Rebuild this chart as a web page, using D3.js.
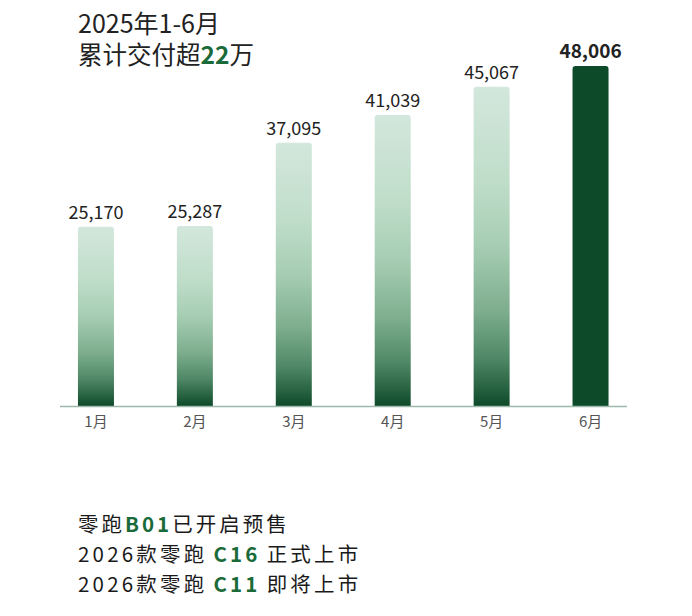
<!DOCTYPE html>
<html><head><meta charset="utf-8">
<script src="https://cdn.jsdelivr.net/npm/d3@7"></script>
<style>
html,body{margin:0;padding:0;background:#fff;}
svg{display:block;font-family:"Noto Sans CJK SC","Noto Sans",sans-serif;}
</style></head>
<body>
<svg id="c" width="692" height="616"></svg>
<script>
const months = ["1月","2月","3月","4月","5月","6月"];
const deliveries = [25170, 25287, 37095, 41039, 45067, 48006];
const titleLine1 = "2025年1-6月";
const titleLine2 = [["累计交付超", false], ["22", true], ["万", false]];
const notes = [
  [["零跑", false], ["B01", true], ["已开启预售", false]],
  [["2026款零跑", false], ["C16", true], ["正式上市", false]],
  [["2026款零跑", false], ["C11", true], ["即将上市", false]]
];

const svg = d3.select("#c");
const baseline = 406;
const green = "#1a6a3a";
const dark = "#0d4a2a";

const x = d3.scaleBand().domain(months).range([46.5, 640])
  .paddingInner(0.636).paddingOuter(0.318);
const y = d3.scaleLinear().domain([-300, 48006]).range([baseline, 66]);

const defs = svg.append("defs");
const grad = defs.append("linearGradient").attr("id","g").attr("x1",0).attr("y1",0).attr("x2",0).attr("y2",1);
[[0,"#d3e7dc"],[0.3,"#bfddc9"],[0.5,"#a6cdb3"],[0.7,"#7eae8e"],[0.85,"#4f8866"],[1,"#0e4a2a"]]
  .forEach(([o,c]) => grad.append("stop").attr("offset",o).attr("stop-color",c));

// title
svg.append("text").attr("x",78).attr("y",33).attr("font-size",25).attr("fill","#222")
  .text(titleLine1);
const t2 = svg.append("text").attr("x",78).attr("y",64).attr("font-size",24.5).attr("fill","#222");
titleLine2.forEach(([s,b]) => t2.append("tspan").text(s)
  .attr("font-weight", b ? 700 : 400).attr("fill", b ? green : "#222"));

// bars
const r = 3;
function barPath(x0, w, top, bot){
  return `M${x0},${bot}V${top+r}Q${x0},${top} ${x0+r},${top}H${x0+w-r}Q${x0+w},${top} ${x0+w},${top+r}V${bot}Z`;
}
const n = deliveries.length;
svg.append("g").selectAll("path").data(deliveries).join("path")
  .attr("d",(d,i)=>barPath(x(months[i]), x.bandwidth(), y(d), baseline))
  .attr("fill",(d,i)=> i===n-1 ? dark : "url(#g)");

// value labels
const fmt = d3.format(",");
svg.append("g").selectAll("text").data(deliveries).join("text")
  .attr("x",(d,i)=>x(months[i])+x.bandwidth()/2)
  .attr("y",d=>y(d)-8)
  .attr("text-anchor","middle")
  .attr("font-size",(d,i)=> i===n-1 ? 19 : 18)
  .attr("font-weight",(d,i)=> i===n-1 ? 700 : 400)
  .attr("fill","#222")
  .text(d=>fmt(d));

// axis
const ax = svg.append("g").attr("transform",`translate(0,${baseline})`)
  .call(d3.axisBottom(x).tickSize(0).tickPadding(10));
ax.select(".domain").remove();
ax.selectAll("text").attr("font-size",15).attr("fill","#555")
  .attr("font-family","\"Noto Sans CJK SC\",sans-serif");
svg.append("line").attr("x1",60).attr("x2",627).attr("y1",baseline+0.5).attr("y2",baseline+0.5)
  .attr("stroke","#9db9aa").attr("stroke-width",1.5);

// notes
notes.forEach((line,i)=>{
  const gap = i === 0 ? 0 : 6;
  const t = svg.append("text").attr("x",78).attr("y",532 + i*30)
    .attr("font-size",20.5).attr("letter-spacing", i === 0 ? 3 : 3.2).attr("fill","#1a1a1a");
  line.forEach(([s,b]) => t.append("tspan").text(s)
    .attr("dx", b ? gap : 0)
    .attr("font-weight", b ? 700 : 400).attr("fill", b ? green : "#1a1a1a"));
  // gap after bold segment
  if (gap) t.selectAll("tspan").filter((d,j)=> j===2).attr("dx", gap);
});
</script>
</body></html>
